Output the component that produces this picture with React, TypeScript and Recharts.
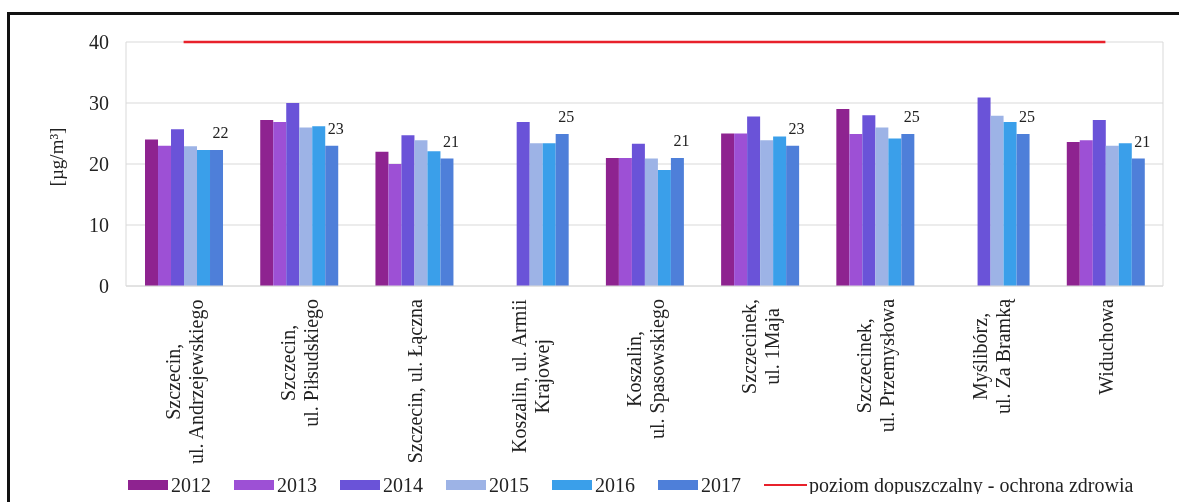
import { ComposedChart, Bar, Line, XAxis, YAxis, CartesianGrid, LabelList, Label } from "recharts";

// stations (line breaks as in the original axis labels)
const stations = [
  "Szczecin,\nul. Andrzejewskiego",
  "Szczecin,\nul. Piłsudskiego",
  "Szczecin, ul. Łączna",
  "Koszalin, ul. Armii\nKrajowej",
  "Koszalin,\nul. Spasowskiego",
  "Szczecinek,\nul. 1Maja",
  "Szczecinek,\nul. Przemysłowa",
  "Myślibórz,\nul. Za Bramką",
  "Widuchowa",
];

const years = ["2012", "2013", "2014", "2015", "2016", "2017"];

// annual mean [µg/m³]
const values2012 = [24, 27.2, 22, null, 21, 25, 29, null, 23.6];
const values2013 = [23, 26.9, 20, null, 21, 25, 24.9, null, 23.9];
const values2014 = [25.7, 30, 24.7, 26.9, 23.3, 27.8, 28, 30.9, 27.2];
const values2015 = [22.9, 26, 23.9, 23.4, 20.9, 23.9, 26, 27.9, 23];
const values2016 = [22.3, 26.2, 22.1, 23.4, 19, 24.5, 24.2, 26.9, 23.4];
const values2017 = [22.3, 23, 20.9, 24.9, 21, 23, 24.9, 24.9, 20.9];

const limitValue = 40;
const limitName = "poziom dopuszczalny - ochrona zdrowia";
const yTicks = [0, 10, 20, 30, 40];
const yUnit = "[µg/m³]";

const colors: Record<string, string> = {
  "2012": "#8E2390",
  "2013": "#9D50D5",
  "2014": "#6A53D8",
  "2015": "#9DB3E6",
  "2016": "#3A9FEA",
  "2017": "#4E7FD9",
};
const limitColor = "#E8212B";
const gridColor = "#d9d9d9";
const SERIF = '"Liberation Serif", "Times New Roman", serif';

const seriesValues = [values2012, values2013, values2014, values2015, values2016, values2017];

const data = stations.map((station, i) => {
  const row: Record<string, any> = { station, limit: limitValue };
  years.forEach((year, k) => {
    row[year] = seriesValues[k][i];
  });
  return row;
});

let measureCtx: CanvasRenderingContext2D | null = null;
function measure(text: string, size: number) {
  if (!measureCtx) measureCtx = document.createElement("canvas").getContext("2d");
  if (!measureCtx) return text.length * size * 0.45;
  measureCtx.font = `${size}px ${SERIF}`;
  return measureCtx.measureText(text).width;
}

function StationTick({ x, y, payload }: any) {
  const lines = String(payload.value).split("\n");
  const longest = Math.max(...lines.map((l) => measure(l, 20)));
  const lineGap = 23;
  return (
    <g transform={`translate(${x},${y}) rotate(-90)`}>
      {lines.map((line, i) => (
        <text
          key={i}
          x={-(5 + longest / 2)}
          y={(i - (lines.length - 1) / 2) * lineGap + 8}
          textAnchor="middle"
          fontSize={20}
          fontFamily={SERIF}
          fill="#222"
        >
          {line}
        </text>
      ))}
    </g>
  );
}

function TopLabel({ x, y, width, value }: any) {
  if (value == null) return null;
  return (
    <text x={x + width / 2 + 4} y={y - 12} textAnchor="middle" fontSize={16} fontFamily={SERIF} fill="#222">
      {Math.round(value)}
    </text>
  );
}

function UnitLabel({ viewBox }: any) {
  const cx = viewBox.x + 55;
  const cy = viewBox.y + viewBox.height / 2 - 7;
  return (
    <text
      transform={`translate(${cx},${cy}) rotate(-90)`}
      textAnchor="middle"
      fontSize={19}
      fontFamily={SERIF}
      fill="#222"
    >
      {yUnit}
    </text>
  );
}

function ChartLegend() {
  const text = { fontFamily: SERIF, fontSize: 20, color: "#222", lineHeight: "20px" };
  return (
    <div style={{ position: "absolute", left: 120, top: 467, display: "flex", alignItems: "center" }}>
      {years.map((year) => (
        <div key={year} style={{ display: "flex", alignItems: "center", marginRight: 23 }}>
          <span style={{ width: 40, height: 10, background: colors[year], marginRight: 3 }} />
          <span style={text}>{year}</span>
        </div>
      ))}
      <div style={{ display: "flex", alignItems: "center" }}>
        <span style={{ width: 43, height: 2, background: limitColor, marginRight: 2 }} />
        <span style={text}>{limitName}</span>
      </div>
    </div>
  );
}

export default function App() {
  return (
    <div style={{ position: "relative", width: 1163, height: 486 }}>
      <div
        style={{
          position: "fixed",
          left: 7,
          top: 12,
          right: 0,
          bottom: 0,
          borderLeft: "3px solid #111",
          borderTop: "3px solid #111",
          pointerEvents: "none",
        }}
      />
      <ComposedChart
        width={1163}
        height={486}
        data={data}
        margin={{ top: 34, right: 0, left: 0, bottom: 0 }}
        barCategoryGap="16.5%"
        barGap={0}
      >
        <CartesianGrid vertical={false} stroke={gridColor} />
        <XAxis
          dataKey="station"
          interval={0}
          height={208}
          tickLine={false}
          axisLine={{ stroke: gridColor }}
          tick={<StationTick />}
        />
        <YAxis
          domain={[0, 40]}
          ticks={yTicks}
          width={118}
          tickLine={false}
          tickMargin={11}
          axisLine={{ stroke: gridColor }}
          tick={{ fontSize: 20, fontFamily: SERIF, fill: "#222" }}
        >
          <Label content={<UnitLabel />} />
        </YAxis>
        <YAxis
          yAxisId="right"
          orientation="right"
          domain={[0, 40]}
          width={8}
          tick={false}
          tickLine={false}
          axisLine={{ stroke: gridColor }}
        />
        {years.map((year) => (
          <Bar key={year} dataKey={year} fill={colors[year]} isAnimationActive={false}>
            {year === "2017" && <LabelList dataKey={year} content={<TopLabel />} />}
          </Bar>
        ))}
        <Line
          dataKey="limit"
          stroke={limitColor}
          strokeWidth={2.5}
          dot={false}
          activeDot={false}
          isAnimationActive={false}
        />
      </ComposedChart>
      <ChartLegend />
    </div>
  );
}
